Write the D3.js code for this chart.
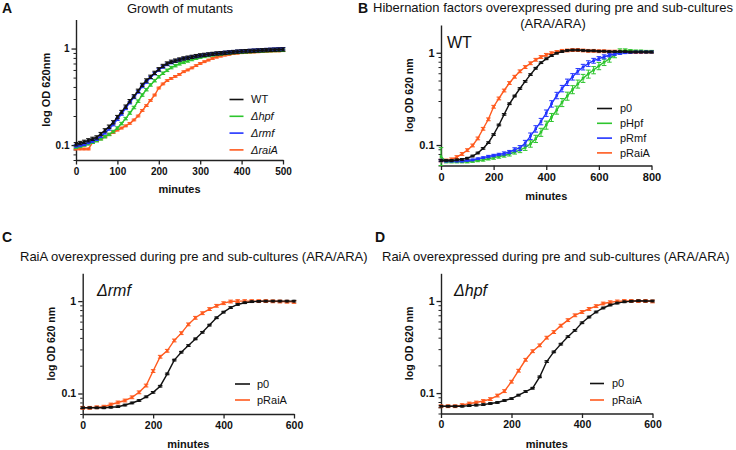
<!DOCTYPE html>
<html><head><meta charset="utf-8">
<script src="https://cdn.jsdelivr.net/npm/d3@7"></script>
<style>body{margin:0;background:#fff}svg{display:block}</style>
</head><body>
<script>
// ---------------- DATA ----------------
const timeA = d3.range(0, 501, 10);
const timeB = d3.range(0, 801, 20);
const timeCD = d3.range(0, 601, 20);

const seriesNamesA = ["WT", "Δhpf", "Δrmf", "ΔraiA"];
const A_WT = [0.102,0.105,0.108,0.112,0.116,0.120,0.130,0.142,0.155,0.172,
0.195,0.220,0.250,0.285,0.320,0.365,0.420,0.467,0.510,0.560,
0.610,0.660,0.700,0.730,0.750,0.770,0.790,0.805,0.820,0.835,
0.850,0.860,0.870,0.880,0.890,0.895,0.905,0.912,0.920,0.930,
0.935,0.940,0.945,0.950,0.955,0.960,0.965,0.970,0.973,0.977,0.980];
const A_hpf = [0.095,0.097,0.100,0.103,0.107,0.111,0.116,0.122,0.129,0.138,
0.150,0.167,0.188,0.215,0.245,0.285,0.330,0.375,0.420,0.465,
0.510,0.555,0.595,0.635,0.665,0.695,0.720,0.745,0.770,0.795,
0.815,0.830,0.845,0.860,0.870,0.880,0.890,0.900,0.910,0.915,
0.920,0.925,0.930,0.935,0.940,0.945,0.950,0.953,0.956,0.958,0.960];
const A_rmf = [0.098,0.100,0.102,0.106,0.110,0.115,0.123,0.134,0.147,0.163,
0.185,0.210,0.240,0.275,0.312,0.355,0.405,0.450,0.500,0.550,
0.600,0.645,0.685,0.715,0.740,0.765,0.785,0.800,0.815,0.830,
0.845,0.860,0.870,0.880,0.890,0.900,0.910,0.920,0.928,0.935,
0.942,0.948,0.954,0.960,0.965,0.970,0.975,0.980,0.985,0.990,0.995];
const A_raiA = [0.091,0.091,0.091,0.091,0.106,0.111,0.116,0.122,0.128,0.135,
0.143,0.150,0.158,0.168,0.182,0.200,0.228,0.256,0.290,0.330,
0.390,0.430,0.465,0.490,0.515,0.540,0.575,0.600,0.630,0.665,
0.700,0.730,0.760,0.790,0.815,0.835,0.855,0.870,0.885,0.895,
0.905,0.910,0.915,0.920,0.925,0.930,0.935,0.940,0.945,0.945,0.950];
const A_err = [0.04, 0.03, 0.03, 0.02];   // relative SD per series

const seriesNamesB = ["p0", "pHpf", "pRmf", "pRaiA"];
const B_p0 = [0.068,0.068,0.068,0.069,0.070,0.072,0.076,0.082,0.092,0.106,
0.130,0.165,0.215,0.280,0.340,0.410,0.490,0.580,0.680,0.780,
0.860,0.930,0.990,1.030,1.060,1.070,1.070,1.060,1.050,1.050,
1.040,1.040,1.030,1.030,1.030,1.030,1.020,1.020,1.020,1.020,1.020];
const B_pHpf = [0.075,0.066,0.066,0.066,0.066,0.066,0.067,0.068,0.069,0.071,
0.073,0.075,0.077,0.080,0.084,0.088,0.094,0.103,0.117,0.138,
0.165,0.200,0.240,0.290,0.340,0.400,0.460,0.530,0.590,0.650,
0.720,0.790,0.860,0.950,1.040,1.060,1.050,1.040,1.040,1.030,1.030];
const B_pRmf = [0.068,0.067,0.067,0.067,0.067,0.068,0.069,0.071,0.073,0.075,
0.077,0.079,0.081,0.084,0.089,0.093,0.105,0.125,0.150,0.180,
0.222,0.280,0.345,0.410,0.480,0.550,0.630,0.700,0.765,0.820,
0.865,0.905,0.940,0.970,0.990,1.000,1.010,1.020,1.020,1.020,1.020];
const B_pRaiA = [0.068,0.068,0.070,0.074,0.080,0.088,0.099,0.118,0.150,0.190,
0.260,0.320,0.390,0.470,0.550,0.630,0.700,0.770,0.840,0.900,
0.950,0.990,1.020,1.050,1.060,1.070,1.070,1.060,1.050,1.050,
1.040,1.040,1.030,1.030,1.030,1.030,1.020,1.020,1.020,1.020,1.020];
const B_err_p0 = 0.02;
const B_err_pHpf = [0.25,0.03,0.03,0.03,0.03,0.03,0.03,0.03,0.03,0.03,
0.04,0.04,0.04,0.05,0.05,0.06,0.07,0.08,0.09,0.10,
0.10,0.10,0.10,0.10,0.10,0.10,0.10,0.10,0.10,0.09,
0.09,0.08,0.08,0.07,0.06,0.04,0.03,0.03,0.03,0.03,0.03];
const B_err_pRmf = [0.03,0.02,0.02,0.02,0.02,0.02,0.02,0.02,0.02,0.03,
0.03,0.03,0.04,0.04,0.05,0.06,0.07,0.08,0.08,0.08,
0.08,0.08,0.08,0.08,0.08,0.08,0.07,0.07,0.07,0.06,
0.05,0.05,0.04,0.03,0.03,0.02,0.02,0.02,0.02,0.02,0.02];
const B_err_pRaiA = 0.035;

const seriesNamesCD = ["p0", "pRaiA"];
const C_p0 = [0.070,0.070,0.070,0.070,0.071,0.072,0.075,0.079,0.084,0.092,
0.103,0.120,0.163,0.230,0.280,0.330,0.390,0.460,0.550,0.660,
0.760,0.850,0.920,0.960,0.985,0.995,1.000,1.000,1.000,1.000,1.000];
const C_pRaiA = [0.070,0.070,0.071,0.072,0.076,0.080,0.084,0.091,0.103,0.122,
0.175,0.250,0.290,0.375,0.450,0.560,0.660,0.740,0.820,0.890,
0.950,0.990,1.000,1.000,1.000,1.000,1.000,0.995,0.990,0.985,0.980];
const D_p0 = [0.072,0.072,0.072,0.072,0.073,0.074,0.075,0.077,0.079,0.083,
0.087,0.095,0.104,0.113,0.150,0.220,0.280,0.340,0.410,0.480,
0.580,0.670,0.760,0.840,0.905,0.950,0.980,0.995,1.005,1.000,1.000];
const D_pRaiA = [0.072,0.072,0.072,0.074,0.077,0.079,0.082,0.086,0.094,0.105,
0.133,0.175,0.230,0.285,0.330,0.400,0.460,0.540,0.620,0.700,
0.760,0.820,0.880,0.940,0.970,0.990,1.000,1.000,1.000,1.000,0.990];
const CD_err = [0.02, 0.035];

const ticksA = [0, 100, 200, 300, 400, 500];
const ticksB = [0, 200, 400, 600, 800];
const ticksCD = [0, 200, 400, 600];
const yMajor = [0.1, 1];

// ---------------- STYLE ----------------
const FONT = "'Liberation Sans', Arial, sans-serif";
const COL = {black: "#111111", green: "#2dc52d", blue: "#2233ff", orange: "#ff5a1e"};

const svg = d3.select("body").append("svg").attr("width", 736).attr("height", 450)
  .style("background", "#fff");

function panel(cfg) {
  const g = svg.append("g");
  const x = d3.scaleLinear().domain(cfg.xDomain).range([cfg.x0, cfg.x1]);
  const y = d3.scaleLog().domain(cfg.yDomain).range([cfg.y1, cfg.y0]).clamp(true);

  // minor y ticks
  const minor = [];
  for (let m = 2; m <= 9; m++) {
    [0.01, 0.1].forEach(b => { const v = m * b; if (v >= cfg.yDomain[0] && v < 1 && Math.abs(v - 0.1) > 1e-9) minor.push(v); });
  }
  g.append("g").attr("transform", `translate(${cfg.x0},0)`)
    .call(d3.axisLeft(y).tickValues(minor).tickSize(2.5).tickSizeOuter(0).tickFormat(""))
    .call(a => a.select(".domain").remove())
    .call(a => a.selectAll("line").attr("stroke", "#222").attr("stroke-width", 1));

  const ya = g.append("g").attr("transform", `translate(${cfg.x0},0)`)
    .call(d3.axisLeft(y).tickValues(yMajor).tickSize(4.5).tickSizeOuter(0).tickPadding(2)
      .tickFormat(d => d === 1 ? "1" : "0.1"));
  const xa = g.append("g").attr("transform", `translate(0,${cfg.y1})`)
    .call(d3.axisBottom(x).tickValues(cfg.xTicks).tickSize(4.5).tickSizeOuter(0).tickPadding(3)
      .tickFormat(d3.format("d")));
  [ya, xa].forEach(a => {
    a.select(".domain").attr("stroke", "#222").attr("stroke-width", 1.4);
    a.selectAll(".tick line").attr("stroke", "#222").attr("stroke-width", 1.3);
    a.selectAll("text").attr("font-family", FONT).attr("font-weight", "bold")
      .attr("font-size", cfg.tickFont).attr("fill", "#111");
  });

  // series
  const line = d3.line().x(d => x(d.t)).y(d => y(d.v));
  cfg.drawOrder.forEach(i => {
    const s = cfg.series[i];
    const pts = cfg.time.map((t, k) => ({t, v: s.values[k],
      e: Array.isArray(s.err) ? s.err[k] : s.err}));
    const sg = g.append("g");
    sg.selectAll("line.eb").data(pts).join("line").attr("class", "eb")
      .attr("x1", d => x(d.t)).attr("x2", d => x(d.t))
      .attr("y1", d => y(d.v * (1 - d.e))).attr("y2", d => y(d.v * (1 + d.e)))
      .attr("stroke", s.color).attr("stroke-width", 1);
    ["lo", "hi"].forEach(side => {
      sg.selectAll("line.cap" + side).data(pts).join("line").attr("class", "cap" + side)
        .attr("x1", d => x(d.t) - 2.3).attr("x2", d => x(d.t) + 2.3)
        .attr("y1", d => y(d.v * (side === "lo" ? 1 - d.e : 1 + d.e)))
        .attr("y2", d => y(d.v * (side === "lo" ? 1 - d.e : 1 + d.e)))
        .attr("stroke", s.color).attr("stroke-width", 1);
    });
    sg.append("path").datum(pts).attr("d", line).attr("fill", "none")
      .attr("stroke", s.color).attr("stroke-width", 1.4);
    sg.selectAll("rect").data(pts).join("rect")
      .attr("x", d => x(d.t) - 1.3).attr("y", d => y(d.v) - 1.3)
      .attr("width", 2.6).attr("height", 2.6).attr("fill", s.color);
  });

  // legend
  cfg.series.forEach((s, i) => {
    const ly = cfg.legend.y + i * cfg.legend.dy;
    g.append("line").attr("x1", cfg.legend.x).attr("x2", cfg.legend.x + cfg.legend.len)
      .attr("y1", ly).attr("y2", ly).attr("stroke", s.color).attr("stroke-width", 1.6);
    g.append("text").attr("x", cfg.legend.tx).attr("y", ly).attr("dy", "0.35em")
      .attr("font-family", FONT).attr("font-size", cfg.legend.font)
      .attr("font-style", s.italic ? "italic" : "normal").attr("fill", "#111").text(s.name);
  });

  // axis titles
  g.append("text").attr("x", (cfg.x0 + cfg.x1) / 2).attr("y", cfg.xLabelY).attr("dy", "0.35em")
    .attr("text-anchor", "middle").attr("font-family", FONT).attr("font-weight", "bold")
    .attr("font-size", 11).attr("fill", "#111").text("minutes");
  g.append("text").attr("transform", `translate(${cfg.yLabelX},${(cfg.y0 + cfg.y1) / 2}) rotate(-90)`)
    .attr("dy", "0.35em").attr("text-anchor", "middle").attr("font-family", FONT)
    .attr("font-weight", "bold").attr("font-size", cfg.yLabelFont).attr("fill", "#111").text(cfg.yLabel);

  // inner label
  if (cfg.inner) {
    g.append("text").attr("x", cfg.inner.x).attr("y", cfg.inner.y).attr("dy", "0.35em")
      .attr("font-family", FONT).attr("font-size", 16).attr("fill", "#111")
      .attr("font-style", cfg.inner.italic ? "italic" : "normal").text(cfg.inner.text);
  }
  // titles
  cfg.titles.forEach(t => {
    g.append("text").attr("x", t.x).attr("y", t.y).attr("dy", "0.35em")
      .attr("text-anchor", t.anchor || "middle").attr("font-family", FONT)
      .attr("font-size", t.size || 12.5).attr("fill", "#111").text(t.text);
  });
  // panel letter
  g.append("text").attr("x", cfg.letter.x).attr("y", cfg.letter.y).attr("dy", "0.35em")
    .attr("font-family", FONT).attr("font-weight", "bold").attr("font-size", 14)
    .attr("fill", "#111").text(cfg.letter.text);
}

panel({
  x0: 76, x1: 283, y0: 19.5, y1: 160, xDomain: [0, 500], yDomain: [0.07, 2],
  xTicks: ticksA, tickFont: 10, time: timeA,
  series: [
    {name: seriesNamesA[0], values: A_WT, err: A_err[0], color: COL.black},
    {name: seriesNamesA[1], values: A_hpf, err: A_err[1], color: COL.green, italic: true},
    {name: seriesNamesA[2], values: A_rmf, err: A_err[2], color: COL.blue, italic: true},
    {name: seriesNamesA[3], values: A_raiA, err: A_err[3], color: COL.orange, italic: true}],
  drawOrder: [3, 1, 2, 0],
  legend: {x: 229.5, len: 14, tx: 251, y: 99.5, dy: 16.8, font: 11},
  xLabelY: 189, yLabelX: 46.5, yLabel: "log OD 620nm", yLabelFont: 11,
  titles: [{x: 180, y: 8, text: "Growth of mutants", size: 13}],
  letter: {x: 2, y: 8.5, text: "A"}
});

panel({
  x0: 441, x1: 651.5, y0: 25, y1: 165.5, xDomain: [0, 800], yDomain: [0.06, 2],
  xTicks: ticksB, tickFont: 11, time: timeB,
  series: [
    {name: seriesNamesB[0], values: B_p0, err: B_err_p0, color: COL.black},
    {name: seriesNamesB[1], values: B_pHpf, err: B_err_pHpf, color: COL.green},
    {name: seriesNamesB[2], values: B_pRmf, err: B_err_pRmf, color: COL.blue},
    {name: seriesNamesB[3], values: B_pRaiA, err: B_err_pRaiA, color: COL.orange}],
  drawOrder: [3, 1, 2, 0],
  legend: {x: 597, len: 15, tx: 620, y: 108.5, dy: 14.8, font: 11},
  xLabelY: 196.5, yLabelX: 409, yLabel: "log OD 620 nm", yLabelFont: 10.5,
  inner: {x: 447, y: 42.5, text: "WT"},
  titles: [{x: 553, y: 7.5, size: 13, text: "Hibernation factors overexpressed during pre and sub-cultures"},
           {x: 553, y: 23, size: 13, text: "(ARA/ARA)"}],
  letter: {x: 358, y: 8.5, text: "B"}
});

panel({
  x0: 82.7, x1: 294, y0: 273.3, y1: 414, xDomain: [0, 600], yDomain: [0.06, 2],
  xTicks: ticksCD, tickFont: 10.5, time: timeCD,
  series: [
    {name: seriesNamesCD[0], values: C_p0, err: CD_err[0], color: COL.black},
    {name: seriesNamesCD[1], values: C_pRaiA, err: CD_err[1], color: COL.orange}],
  drawOrder: [1, 0],
  legend: {x: 235, len: 15, tx: 257, y: 384, dy: 16, font: 11},
  xLabelY: 444, yLabelX: 51.5, yLabel: "log OD 620 nm", yLabelFont: 10.5,
  inner: {x: 97, y: 290, text: "Δrmf", italic: true},
  titles: [{x: 20, y: 256, anchor: "start", size: 13, text: "RaiA overexpressed during pre and sub-cultures (ARA/ARA)"}],
  letter: {x: 2, y: 237, text: "C"}
});

panel({
  x0: 441, x1: 652.5, y0: 273.3, y1: 413.5, xDomain: [0, 600], yDomain: [0.06, 2],
  xTicks: ticksCD, tickFont: 10.5, time: timeCD,
  series: [
    {name: seriesNamesCD[0], values: D_p0, err: CD_err[0], color: COL.black},
    {name: seriesNamesCD[1], values: D_pRaiA, err: CD_err[1], color: COL.orange}],
  drawOrder: [1, 0],
  legend: {x: 590, len: 14, tx: 612, y: 383.5, dy: 16.5, font: 11},
  xLabelY: 444, yLabelX: 409, yLabel: "log OD 620 nm", yLabelFont: 10.5,
  inner: {x: 454, y: 290, text: "Δhpf", italic: true},
  titles: [{x: 382, y: 256, anchor: "start", size: 13, text: "RaiA overexpressed during pre and sub-cultures (ARA/ARA)"}],
  letter: {x: 375, y: 237, text: "D"}
});
</script>
</body></html>
